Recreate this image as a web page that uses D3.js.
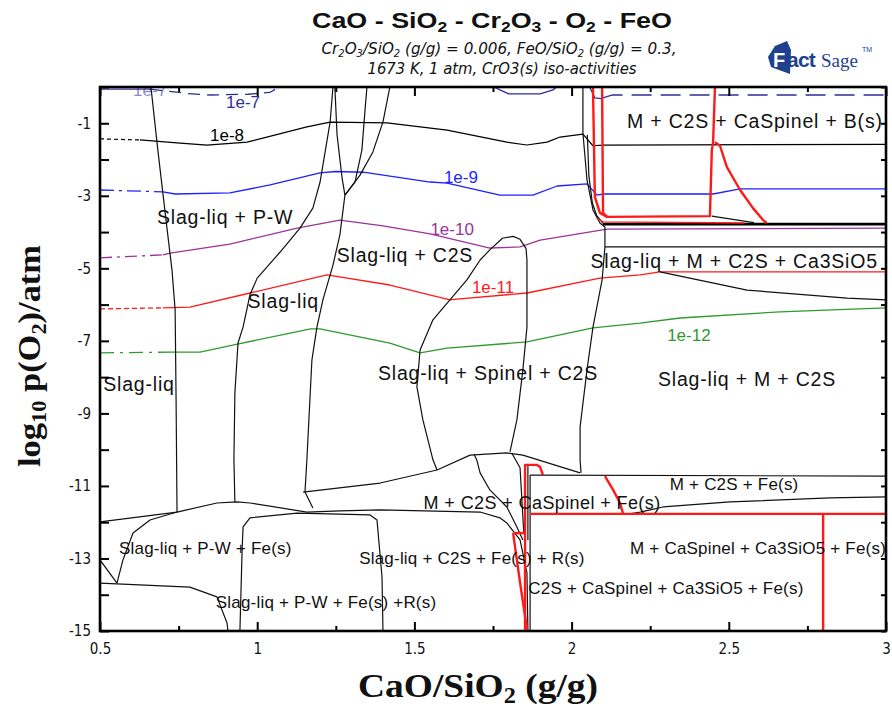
<!DOCTYPE html>
<html>
<head>
<meta charset="utf-8">
<script src="https://cdn.jsdelivr.net/npm/d3@7"></script>
<style>
body { margin: 0; background: #fff; }
svg { display: block; }
</style>
</head>
<body>
<svg id="chart" width="892" height="709"></svg>
<script>
// ---- data (x = CaO/SiO2, y = log10 pO2) ----
var xMajor = [0.5, 1, 1.5, 2, 2.5, 3];
var xMinor = [0.75, 1.25, 1.75, 2.25, 2.75];
var yMajor = [-1, -3, -5, -7, -9, -11, -13, -15];
var yMinor = [0, -2, -4, -6, -8, -10, -12, -14];

// CrO3(s) iso-activity lines
var act7a = [[0.5,-0.06],[0.66,-0.06]];
var act7b = [[0.66,-0.06],[0.72,-0.12],[0.78,-0.18],[0.85,-0.22],[0.97,-0.20],[1.04,-0.15],[1.10,0.15]];
var act7c = [[1.72,0.15],[1.772,-0.08],[1.80,-0.19],[1.90,-0.19],[1.941,-0.08],[1.97,0.15]];
var act7d = [[2.04,0.15],[2.059,-0.03],[2.074,-0.30],[2.10,-0.33]];
var act7e = [[2.10,-0.30],[2.13,-0.22],[3.0,-0.22]];
var act8a = [[0.5,-1.43],[0.627,-1.46]];
var act8b = [[0.627,-1.46],[0.745,-1.54],[0.84,-1.60],[0.968,-1.52],[1.018,-1.41],[1.158,-1.10],[1.232,-0.97],[1.413,-0.99],[1.604,-1.19],[1.794,-1.52],[1.858,-1.60],[1.922,-1.52],[1.963,-1.38],[2.036,-1.30],[2.068,-1.62],[2.10,-1.60],[3.0,-1.58]];
var act9a = [[0.5,-2.84],[0.70,-2.89]];
var act9b = [[0.70,-2.89],[0.739,-2.95],[0.913,-2.92],[1.041,-2.70],[1.200,-2.37],[1.25,-2.33],[1.337,-2.35],[1.55,-2.62],[1.604,-2.65],[1.772,-2.98],[1.877,-2.98],[1.954,-2.73],[2.049,-2.67],[2.081,-2.98],[2.10,-2.95],[2.45,-2.95],[2.536,-2.81],[3.0,-2.81]];
var act10a = [[0.5,-4.71],[0.70,-4.63]];
var act10b = [[0.70,-4.63],[0.723,-4.58],[0.913,-4.33],[1.127,-3.89],[1.263,-3.67],[1.40,-3.83],[1.55,-4.05],[1.74,-4.44],[1.836,-4.41],[1.90,-4.22],[2.113,-3.92],[3.0,-3.89]];
var act11a = [[0.5,-6.12],[0.70,-6.09]];
var act11b = [[0.70,-6.09],[0.786,-6.07],[0.977,-5.68],[1.222,-5.18],[1.422,-5.46],[1.613,-5.87],[1.636,-5.85],[1.858,-5.68],[2.09,-5.27],[2.218,-5.18],[2.281,-5.10],[3.0,-5.10]];
var act12a = [[0.5,-7.33],[0.729,-7.31]];
var act12b = [[0.729,-7.31],[0.818,-7.31],[0.926,-7.11],[1.17,-6.67],[1.20,-6.67],[1.422,-7.06],[1.518,-7.33],[1.604,-7.20],[1.858,-7.03],[2.068,-6.64],[2.218,-6.51],[2.345,-6.37],[2.663,-6.20],[3.0,-6.09]];

// phase boundaries
var bndA = [[0.662,0],[0.684,-1.74],[0.710,-3.67],[0.729,-5.05],[0.739,-6.15],[0.742,-8.63],[0.745,-11.72]];
var bndB = [[1.241,0],[1.232,-0.96],[1.216,-1.79],[1.200,-2.62],[1.177,-3.34],[1.136,-3.89],[1.073,-4.55],[1.000,-5.27],[0.977,-5.73],[0.955,-6.62],[0.939,-7.06],[0.929,-8.44],[0.926,-10.28],[0.929,-11.44]];
var bndV1 = [[1.247,0],[1.254,-1.32],[1.270,-2.51],[1.279,-2.98]];
var bndV2 = [[1.349,0],[1.343,-0.63],[1.333,-1.74],[1.311,-2.62],[1.279,-2.98]];
var bndV3 = [[1.422,0],[1.400,-0.96],[1.368,-1.79],[1.327,-2.43],[1.279,-2.98]];
var bndC = [[1.279,-2.98],[1.263,-4.08],[1.241,-4.91],[1.209,-5.87],[1.190,-6.62],[1.174,-7.53],[1.158,-10.28],[1.152,-11.17],[1.177,-11.61]];
var bndSp = [[1.572,-10.56],[1.559,-10.28],[1.527,-9.18],[1.508,-8.27],[1.518,-7.25],[1.559,-6.42],[1.613,-5.87],[1.667,-5.32],[1.709,-4.77],[1.740,-4.49],[1.78,-4.17],[1.814,-4.12],[1.836,-4.20],[1.855,-4.45],[1.858,-4.77],[1.858,-6.62],[1.845,-7.80],[1.826,-9.18],[1.804,-10.06]];
var bndE = [[2.036,0],[2.036,-1.27],[2.049,-2.56],[2.068,-3.39],[2.090,-3.75],[2.106,-3.86],[2.106,-4.41],[2.097,-5.32],[2.068,-6.62],[2.049,-7.80],[2.027,-9.37],[2.027,-10.28],[2.030,-10.64]];
var bndE2 = [[2.05,-1.32],[2.055,-2.45],[2.066,-3.2],[2.08,-3.55],[2.10,-3.76]];
var bndL1 = [[0.5,-11.99],[0.745,-11.72],[0.872,-11.47],[0.936,-11.44],[0.977,-11.47],[1.158,-11.72],[1.263,-11.69],[1.391,-11.66],[1.709,-11.72],[1.772,-11.88],[1.794,-12.02],[1.836,-12.49],[1.858,-13.40],[1.861,-15]];
var bndL2 = [[1.146,-11.17],[1.391,-10.92],[1.572,-10.56],[1.677,-10.15],[1.794,-10.09],[1.845,-10.15],[2.027,-10.64]];
var bndL3 = [[1.69,-10.13],[1.699,-10.30],[1.709,-10.64],[1.740,-11.11],[1.794,-11.58],[1.826,-12.13],[1.845,-12.49]];
var bndL4 = [[1.81,-10.10],[1.836,-10.50],[1.842,-11.4],[1.848,-12.3]];
var bndL5 = [[0.745,-11.72],[0.659,-11.94],[0.605,-12.30],[0.573,-13.04],[0.554,-13.68]];
var bndL6 = [[0.5,-13.04],[0.554,-13.68]];
var bndL7 = [[0.5,-13.68],[0.786,-13.79],[0.872,-14.06],[0.904,-14.78],[0.907,-15]];
var bndL8 = [[0.945,-15],[0.952,-12.77],[0.955,-12.13],[0.977,-11.88],[1.127,-11.75],[1.359,-11.80],[1.381,-11.94],[1.397,-13.51],[1.400,-15]];
var bndL9 = [[1.868,-10.70],[1.868,-15]];
var bndL10 = [[1.868,-10.70],[3.0,-10.73]];
var bndL11 = [[2.19,-11.76],[2.218,-11.72],[2.291,-11.58],[2.504,-11.44],[2.822,-11.33],[3.0,-11.30]];
var bndL12 = [[1.861,-10.45],[1.861,-12.5]];
var bndR1 = [[2.100,-3.78],[3.0,-3.78]];
var bndR2 = [[2.106,-4.41],[3.0,-4.41]];
var bndR3 = [[2.446,-3.56],[2.58,-3.74]];
var bndR4 = [[2.281,-5.10],[2.558,-5.60],[2.876,-5.82],[3.0,-5.87]];

// red boundaries
var red1 = [[2.068,0],[2.074,-3.03],[2.090,-3.47],[2.113,-3.58],[2.440,-3.56],[2.446,-1.74],[2.450,-1.54],[2.456,0]];
var red2 = [[2.097,0],[2.100,-3.47],[2.113,-3.58]];
var red3 = [[2.456,-1.52],[2.472,-1.62],[2.494,-2.21],[2.536,-2.84],[2.577,-3.34],[2.609,-3.67],[2.621,-3.75]];
var red4 = [[2.08,-3.62],[2.10,-3.72],[2.55,-3.75]];
var red5 = [[1.852,-15],[1.852,-10.42],[1.890,-10.42],[1.900,-10.48],[1.909,-10.70]];
var red6 = [[1.814,-12.30],[1.852,-12.30]];
var red7 = [[1.814,-12.30],[1.835,-13.6],[1.858,-14.95]];
var red8 = [[1.868,-11.77],[3.0,-11.77]];
var red9 = [[2.106,-10.73],[2.132,-11.11],[2.154,-11.47],[2.164,-11.77]];
var red10 = [[2.80,-11.77],[2.80,-15]];

// labels
var regionNames = ["Slag-liq + P-W", "Slag-liq + C2S", "Slag-liq", "Slag-liq", "Slag-liq + Spinel + C2S",
  "Slag-liq + M + C2S", "Slag-liq + M + C2S + Ca3SiO5", "M + C2S + CaSpinel + B(s)"];
var regionAt = [[0.898,-3.58],[1.470,-4.63],[1.083,-5.91],[0.624,-8.20],[1.734,-7.90],
  [2.558,-8.06],[2.517,-4.81],[2.583,-0.95]];
var smallNames = ["M + C2S + CaSpinel + Fe(s)", "M + C2S + Fe(s)", "M + CaSpinel + Ca3SiO5 + Fe(s)",
  "C2S + CaSpinel + Ca3SiO5 + Fe(s)", "Slag-liq + P-W + Fe(s)", "Slag-liq + P-W + Fe(s) +R(s)",
  "Slag-liq + C2S + Fe(s) + R(s)"];
var smallAt = [[1.906,-11.47],[2.517,-10.95],[2.593,-12.71],[2.300,-13.81],[0.835,-12.71],[1.219,-14.20],[1.683,-12.98]];
var actNames = ["1e-7", "1e-7", "1e-8", "1e-9", "1e-10", "1e-11", "1e-12"];
var actAt = [[0.659,-0.08],[0.955,-0.41],[0.904,-1.32],[1.648,-2.48],[1.620,-3.92],[1.750,-5.51],[2.373,-6.84]];

// ---- drawing ----
var navy = "#2e2e9a", blue = "#1f1fff", purple = "#993399", red = "#ff1a1a", green = "#2e9a2e";
var sans = "'Liberation Sans', Arial, sans-serif";
var serif = "'Liberation Serif', 'Times New Roman', serif";
var narrow = "'Liberation Sans Narrow', 'Arial Narrow', 'DejaVu Sans Condensed', sans-serif";

var svg = d3.select("#chart");
var x = d3.scaleLinear().domain([0.5, 3]).range([100, 886]);
var y = d3.scaleLinear().domain([0, -15]).range([87, 631]);

svg.append("defs").append("clipPath").attr("id", "plotclip")
  .append("rect").attr("x", 100).attr("y", 87).attr("width", 786).attr("height", 544);

var line = d3.line().x(function(d){ return x(d[0]); }).y(function(d){ return y(d[1]); });
var plot = svg.append("g").attr("clip-path", "url(#plotclip)");

var layers = [
  {d: act7a, c: navy, w: 1.3}, {d: act7b, c: navy, w: 1.3, dash: "12,7"},
  {d: act7c, c: navy, w: 1.3}, {d: act7d, c: navy, w: 1.3}, {d: act7e, c: navy, w: 1.3, dash: "20,9"},
  {d: act8a, c: "#000", w: 1.2, dash: "4,3"}, {d: act8b, c: "#000", w: 1.2},
  {d: act9a, c: blue, w: 1.3, dash: "14,5,3,5"}, {d: act9b, c: blue, w: 1.3},
  {d: act10a, c: purple, w: 1.3, dash: "12,5,3,5"}, {d: act10b, c: purple, w: 1.3},
  {d: act11a, c: red, w: 1.3, dash: "5,3"}, {d: act11b, c: red, w: 1.3},
  {d: act12a, c: green, w: 1.3, dash: "14,6,3,6"}, {d: act12b, c: green, w: 1.3}
];
[bndA, bndB, bndV1, bndV2, bndV3, bndC, bndSp, bndE, bndE2, bndL1, bndL2, bndL3, bndL4, bndL5,
 bndL6, bndL7, bndL8, bndL9, bndL10, bndL11, bndL12, bndR2, bndR3, bndR4].forEach(function(b){
  layers.push({d: b, c: "#111", w: 1.2});
});
layers.push({d: bndR1, c: "#000", w: 2.6});
[red1, red2, red3, red5, red6, red7, red8, red9, red10].forEach(function(r){
  layers.push({d: r, c: red, w: 2.4});
});
layers.push({d: red4, c: red, w: 1.3});

plot.selectAll("path.ln").data(layers).join("path")
  .attr("class", "ln")
  .attr("d", function(p){ return line(p.d); })
  .attr("fill", "none")
  .attr("stroke", function(p){ return p.c; })
  .attr("stroke-width", function(p){ return p.w; })
  .attr("stroke-linejoin", "round")
  .attr("stroke-dasharray", function(p){ return p.dash || null; });

// labels
var actColors = [navy, navy, "#000", blue, purple, red, green];
plot.selectAll("text.act").data(actNames).join("text")
  .attr("class", "act")
  .attr("x", function(d, i){ return x(actAt[i][0]); })
  .attr("y", function(d, i){ return y(actAt[i][1]); })
  .attr("dy", "0.35em")
  .attr("text-anchor", "middle")
  .attr("font-family", sans).attr("font-size", 17)
  .attr("fill", function(d, i){ return actColors[i]; })
  .attr("opacity", function(d, i){ return i === 0 ? 0.55 : 1; })
  .text(function(d){ return d; });

svg.selectAll("text.region").data(regionNames).join("text")
  .attr("class", "region")
  .attr("x", function(d, i){ return x(regionAt[i][0]); })
  .attr("y", function(d, i){ return y(regionAt[i][1]); })
  .attr("dy", "0.35em")
  .attr("text-anchor", "middle")
  .attr("font-family", sans).attr("font-size", 19.5)
  .attr("letter-spacing", 0.8)
  .attr("fill", "#111")
  .text(function(d){ return d; });

svg.selectAll("text.small").data(smallNames).join("text")
  .attr("class", "small")
  .attr("x", function(d, i){ return x(smallAt[i][0]); })
  .attr("y", function(d, i){ return y(smallAt[i][1]); })
  .attr("dy", "0.35em")
  .attr("text-anchor", "middle")
  .attr("font-family", sans)
  .attr("font-size", function(d, i){ return i === 0 ? 18 : 17; })
  .attr("letter-spacing", function(d, i){ return i === 0 ? 0.4 : 0.2; })
  .attr("fill", "#111")
  .text(function(d){ return d; });

// axes
function tidy(sel, w) {
  sel.select(".domain").remove();
  sel.selectAll(".tick line").attr("stroke", "#000").attr("stroke-width", w);
  sel.attr("font-family", narrow).attr("font-size", 15).attr("font-stretch", "condensed");
  sel.selectAll("text").attr("fill", "#111");
}
svg.append("g").attr("transform", "translate(0,631)")
  .call(d3.axisBottom(x).tickValues(xMajor).tickSize(-9).tickPadding(12).tickFormat(function(d){ return String(d); }))
  .call(tidy, 2);
svg.append("g").attr("transform", "translate(0,631)")
  .call(d3.axisBottom(x).tickValues(xMinor).tickSize(-5).tickFormat(""))
  .call(tidy, 2);
svg.append("g").attr("transform", "translate(0,87)")
  .call(d3.axisTop(x).tickValues(xMajor).tickSize(-9).tickFormat(""))
  .call(tidy, 2);
svg.append("g").attr("transform", "translate(0,87)")
  .call(d3.axisTop(x).tickValues(xMinor).tickSize(-5).tickFormat(""))
  .call(tidy, 2);
svg.append("g").attr("transform", "translate(100,0)")
  .call(d3.axisLeft(y).tickValues(yMajor).tickSize(-9).tickPadding(9).tickFormat(function(d){ return String(d); }))
  .call(tidy, 2);
svg.append("g").attr("transform", "translate(100,0)")
  .call(d3.axisLeft(y).tickValues(yMinor).tickSize(-9).tickFormat(""))
  .call(tidy, 2);
svg.append("g").attr("transform", "translate(886,0)")
  .call(d3.axisRight(y).tickValues(yMajor.concat(yMinor)).tickSize(-5).tickFormat(""))
  .call(tidy, 2);

svg.append("rect").attr("x", 100).attr("y", 87).attr("width", 786).attr("height", 544)
  .attr("fill", "none").attr("stroke", "#000").attr("stroke-width", 2.6);

// text with _n subscripts
function rich(sel, str, shift) {
  var parts = str.split(/_(\d+)/), down = false;
  parts.forEach(function(p, i){
    if (!p) return;
    var t = sel.append("tspan").text(p);
    if (i % 2) {
      t.attr("font-size", "65%");
      if (!down) { t.attr("dy", shift); down = true; }
    } else if (down) {
      t.attr("dy", -shift); down = false;
    }
  });
  return sel;
}

svg.append("text").attr("x", 492).attr("y", 28).attr("text-anchor", "middle")
  .attr("font-family", sans).attr("font-weight", "bold").attr("font-size", 22)
  .attr("textLength", 360).attr("lengthAdjust", "spacingAndGlyphs").attr("fill", "#111")
  .call(rich, "CaO - SiO_2 - Cr_2O_3 - O_2 - FeO", 4);
svg.append("text").attr("x", 499).attr("y", 54).attr("text-anchor", "middle")
  .attr("font-family", narrow).attr("font-stretch", "condensed").attr("font-style", "italic").attr("font-size", 15)
  .attr("textLength", 355).attr("lengthAdjust", "spacingAndGlyphs").attr("fill", "#111")
  .call(rich, "Cr_2O_3/SiO_2 (g/g)  = 0.006,  FeO/SiO_2 (g/g)  = 0.3,", 3);
svg.append("text").attr("x", 502).attr("y", 74).attr("text-anchor", "middle")
  .attr("font-family", narrow).attr("font-stretch", "condensed").attr("font-style", "italic").attr("font-size", 15)
  .attr("textLength", 269).attr("lengthAdjust", "spacingAndGlyphs").attr("fill", "#111")
  .text("1673 K, 1 atm, CrO3(s) iso-activities");

svg.append("text").attr("x", 478).attr("y", 697).attr("text-anchor", "middle")
  .attr("font-family", serif).attr("font-weight", "bold").attr("font-size", 34)
  .attr("textLength", 240).attr("lengthAdjust", "spacingAndGlyphs").attr("fill", "#111")
  .call(rich, "CaO/SiO_2 (g/g)", 6);
svg.append("text").attr("transform", "translate(40,356) rotate(-90)").attr("text-anchor", "middle")
  .attr("font-family", serif).attr("font-weight", "bold").attr("font-size", 32)
  .attr("textLength", 222).attr("lengthAdjust", "spacingAndGlyphs").attr("fill", "#111")
  .call(rich, "log_10 p(O_2)/atm", 6);

// FactSage logo
var logo = svg.append("g").attr("transform", "translate(768,40)");
logo.append("path").attr("d", "M0,17 L7,6 L19,1 L23,10 L22,34 L11,30 L3,27 Z").attr("fill", "#1f3f8f");
logo.append("text").attr("x", 5).attr("y", 27).attr("font-family", sans).attr("font-weight", "bold")
  .attr("font-size", 20).attr("fill", "#fff").text("F");
logo.append("text").attr("x", 19).attr("y", 27).attr("font-family", sans).attr("font-weight", "bold")
  .attr("font-size", 21).attr("letter-spacing", -0.8).attr("fill", "#1f3f8f").text("act");
logo.append("text").attr("x", 53).attr("y", 27).attr("font-family", serif)
  .attr("font-size", 19).attr("fill", "#1f3f8f").text("Sage");
logo.append("text").attr("x", 94).attr("y", 12).attr("font-family", sans)
  .attr("font-size", 7).attr("fill", "#1f3f8f").text("TM");
</script>
</body>
</html>
